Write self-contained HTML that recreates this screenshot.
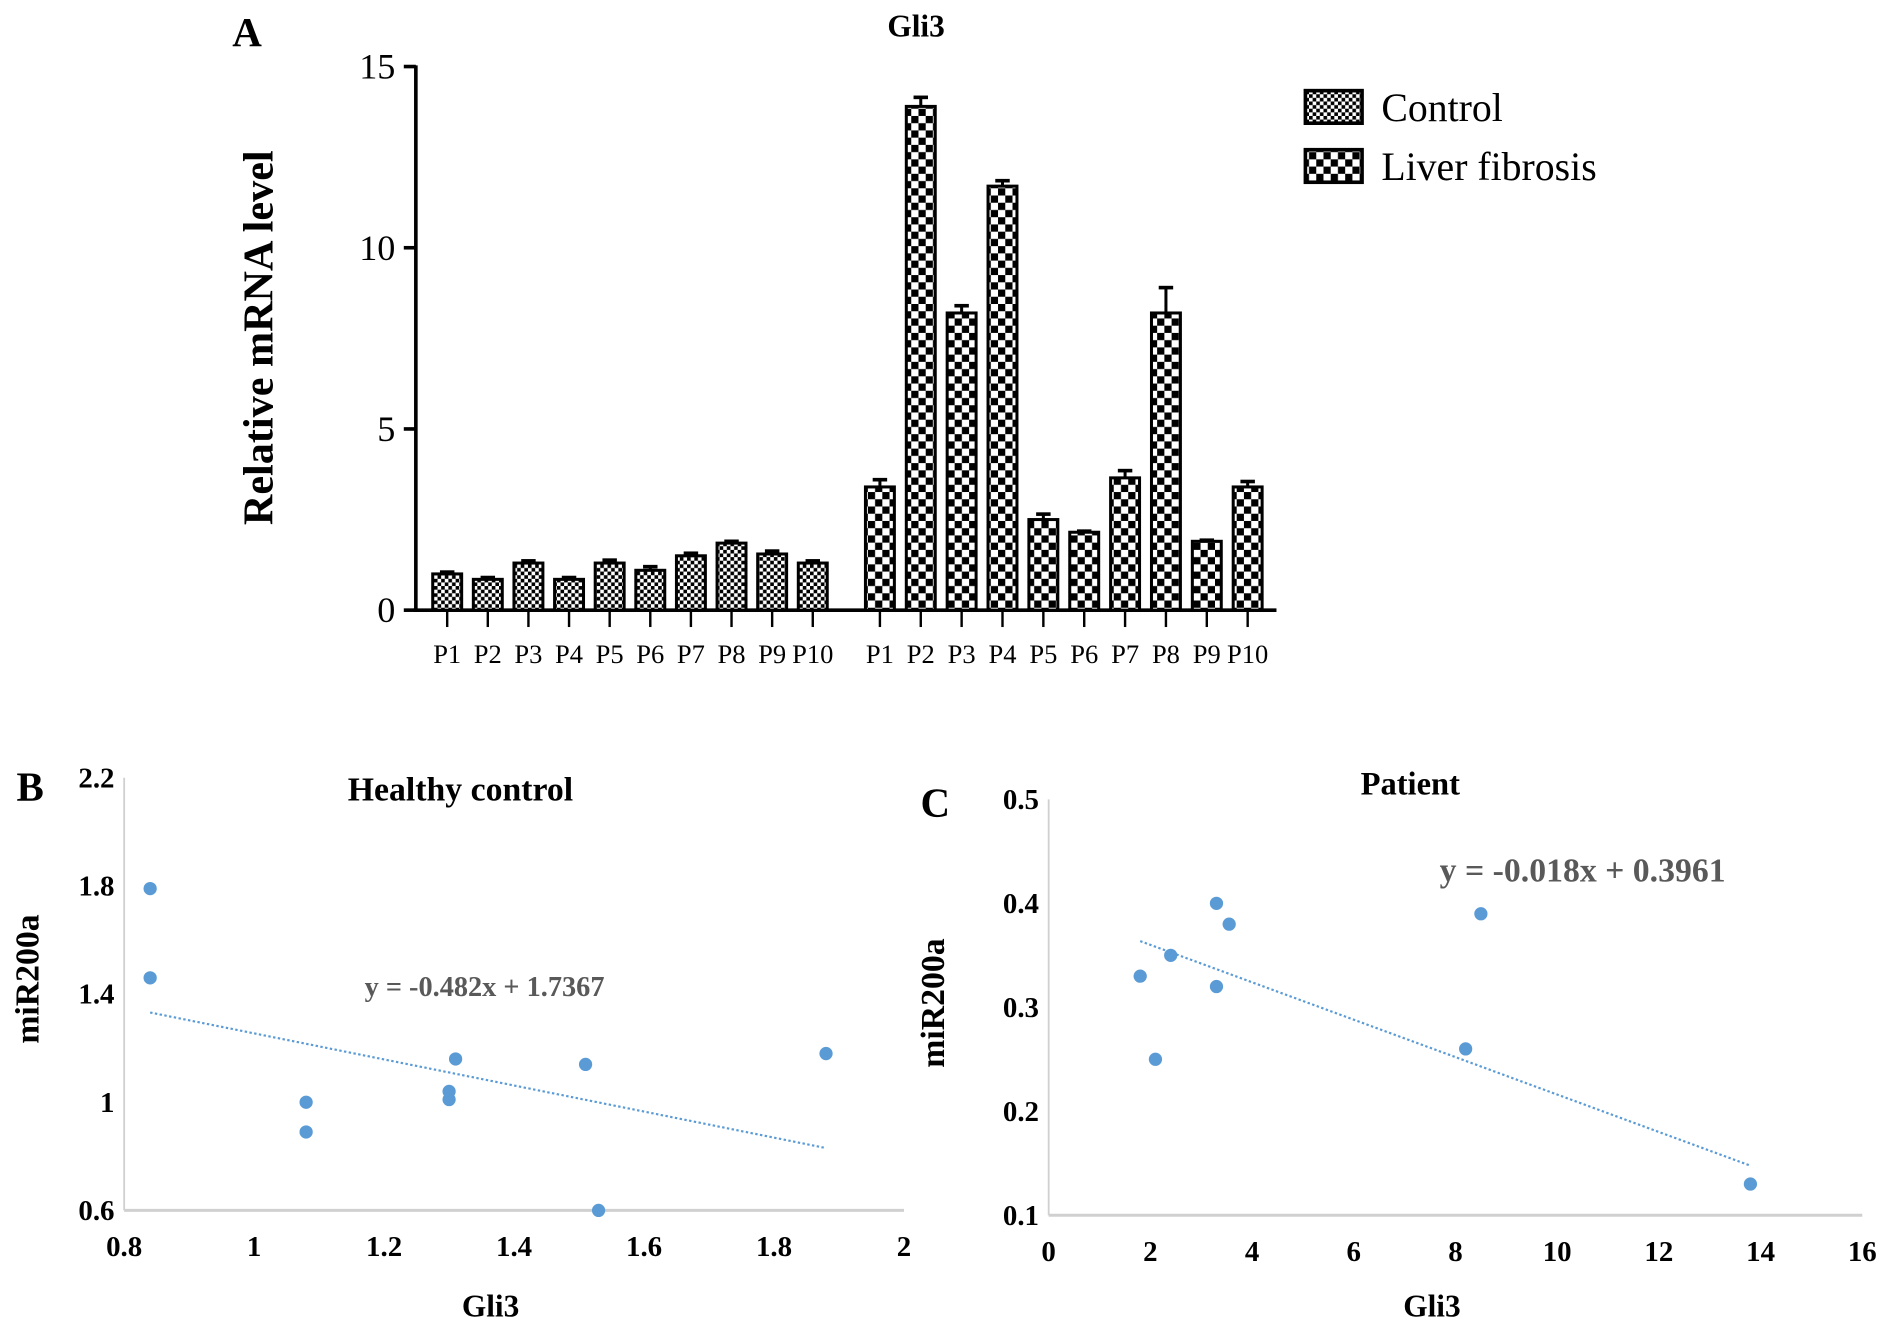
<!DOCTYPE html>
<html><head><meta charset="utf-8"><style>
html,body{margin:0;padding:0;background:#fff;}
svg{display:block;font-family:"Liberation Serif",serif;}
</style></head><body>
<svg id="fig" width="1890" height="1330" viewBox="0 0 1568 1103" xmlns="http://www.w3.org/2000/svg">
<defs>
<pattern id="pc" width="6" height="6" patternUnits="userSpaceOnUse"><rect width="6" height="6" fill="#fff"/><rect width="3" height="3" fill="#000"/><rect x="3" y="3" width="3" height="3" fill="#000"/></pattern>
<pattern id="pf" width="12" height="12" patternUnits="userSpaceOnUse"><rect width="12" height="12" fill="#fff"/><rect width="6" height="6" fill="#000"/><rect x="6" y="6" width="6" height="6" fill="#000"/></pattern>
</defs>
<g id="pa"></g>
<g id="pb"></g>
<g id="pc2"></g>
</svg>
<script>
const patients = ["P1","P2","P3","P4","P5","P6","P7","P8","P9","P10"];
const controlVals = [1.0,0.85,1.3,0.85,1.3,1.1,1.5,1.85,1.55,1.3];
const controlErr = [0.05,0.05,0.06,0.05,0.08,0.1,0.07,0.05,0.08,0.06];
const fibrosisVals = [3.4,13.9,8.2,11.7,2.5,2.15,3.65,8.2,1.9,3.4];
const fibrosisErr = [0.2,0.25,0.2,0.15,0.15,0.03,0.2,0.7,0.03,0.15];
const yTicksA = [0,5,10,15];
const bX = [0.84,0.84,1.08,1.08,1.30,1.30,1.31,1.51,1.53,1.88];
const bY = [1.79,1.46,1.0,0.89,1.04,1.01,1.16,1.14,0.6,1.18];
const bXTicks = [0.8,1,1.2,1.4,1.6,1.8,2];
const bYTicks = [0.6,1,1.4,1.8,2.2];
const bXLabels = ["0.8","1","1.2","1.4","1.6","1.8","2"];
const bYLabels = ["0.6","1","1.4","1.8","2.2"];
const cX = [1.8,2.1,2.4,3.3,3.3,3.55,8.2,8.5,13.8];
const cY = [0.33,0.25,0.35,0.40,0.32,0.38,0.26,0.39,0.13];
const cXTicks = [0,2,4,6,8,10,12,14,16];
const cYTicks = [0.1,0.2,0.3,0.4,0.5];
const bSlope=-0.482, bInt=1.7367, cSlope=-0.018, cInt=0.3961;

const NS="http://www.w3.org/2000/svg";
function mk(parent,tag,attrs,text){const e=document.createElementNS(NS,tag);for(const k in attrs)e.setAttribute(k,attrs[k]);if(text!==undefined)e.textContent=text;parent.appendChild(e);return e;}

const A=document.getElementById('pa');
const ay=v=>506-v*(451/15);
const cx=(i,g)=>(g?730:371)+i*(g?33.9:33.7);
let e;
e=mk(A,'text',{x:205,y:38,'font-size':34,'font-weight':'bold','text-anchor':'middle'},'A');

e=mk(A,'text',{x:760,y:30,'font-size':26,'font-weight':'bold','text-anchor':'middle'},'Gli3');

e=mk(A,'text',{x:0,y:0,'font-size':35,'font-weight':'bold','text-anchor':'middle',transform:'translate(226,280) rotate(-90)'},'Relative mRNA level');

mk(A,'line',{x1:345,y1:ay(15)-1,x2:345,y2:507,stroke:'#000','stroke-width':3});
mk(A,'line',{x1:343,y1:506,x2:1059,y2:506,stroke:'#000','stroke-width':3});
yTicksA.forEach(t=>{mk(A,'line',{x1:335,y1:ay(t),x2:345,y2:ay(t),stroke:'#000','stroke-width':3});
 e=mk(A,'text',{x:328,y:ay(t)+10,'font-size':30,'text-anchor':'end'},String(t));
 });
function bars(vals,errs,g,pat,name){
 vals.forEach((v,i)=>{const x=cx(i,g),w=24;
  mk(A,'line',{x1:x,y1:ay(v),x2:x,y2:ay(v+errs[i]),stroke:'#000','stroke-width':2.5});
  mk(A,'line',{x1:x-6,y1:ay(v+errs[i]),x2:x+6,y2:ay(v+errs[i]),stroke:'#000','stroke-width':3});
  e=mk(A,'rect',{x:x-w/2,y:ay(v),width:w,height:506-ay(v),fill:'url(#'+pat+')',stroke:'#000','stroke-width':2.5});
  
  
  mk(A,'line',{x1:x,y1:506,x2:x,y2:520,stroke:'#000','stroke-width':2});
  e=mk(A,'text',{x:x,y:550,'font-size':22,'text-anchor':'middle'},patients[i]);
  
 });}
bars(controlVals,controlErr,0,'pc','control');
bars(fibrosisVals,fibrosisErr,1,'pf','fibrosis');
[['pc','Control',75],['pf','Liver fibrosis',124]].forEach(([p,t,y])=>{
 const g=mk(A,'g',{});
 
 mk(g,'rect',{x:1083,y:y,width:47,height:27,fill:'url(#'+p+')',stroke:'#000','stroke-width':3});
 mk(g,'text',{x:1146,y:y+25,'font-size':33},t);});

function scatter(G,o){
 const sx=v=>o.x0+(v-o.xmin)/(o.xmax-o.xmin)*(o.x1-o.x0);
 const sy=v=>o.y0-(v-o.ymin)/(o.ymax-o.ymin)*(o.y0-o.y1);
 mk(G,'line',{x1:o.x0,y1:o.y1,x2:o.x0,y2:o.y0,stroke:'#d0d0d0','stroke-width':1.5});
 mk(G,'line',{x1:o.x0,y1:o.y0,x2:o.x1,y2:o.y0,stroke:'#d0d0d0','stroke-width':2.5});
 o.xt.forEach((t,i)=>{e=mk(G,'text',{x:sx(t),y:o.y0+38,'font-size':24,'font-weight':'bold','text-anchor':'middle'},o.xl[i]);
  });
 o.yt.forEach((t,i)=>{e=mk(G,'text',{x:o.x0-8,y:sy(t)+8,'font-size':24,'font-weight':'bold','text-anchor':'end'},o.yl[i]);
  });
 const xa=Math.min(...o.px),xb=Math.max(...o.px);
 e=mk(G,'line',{x1:sx(xa),y1:sy(o.m*xa+o.b),x2:sx(xb),y2:sy(o.m*xb+o.b),stroke:'#5b9bd5','stroke-width':1.8,'stroke-dasharray':'2,2'});
 
 o.px.forEach((v,i)=>{e=mk(G,'circle',{cx:sx(v),cy:sy(o.py[i]),r:5.5,fill:'#5b9bd5'});
  });
}
const B=document.getElementById('pb');
scatter(B,{x0:103,x1:750,y0:1004,y1:645,xmin:0.8,xmax:2,ymin:0.6,ymax:2.2,xt:bXTicks,xl:bXLabels,yt:bYTicks,yl:bYLabels,px:bX,py:bY,m:bSlope,b:bInt});
e=mk(B,'text',{x:25,y:664,'font-size':34,'font-weight':'bold','text-anchor':'middle'},'B');
e=mk(B,'text',{x:382,y:664,'font-size':28,'font-weight':'bold','text-anchor':'middle'},'Healthy control');
e=mk(B,'text',{x:402,y:826,'font-size':23.5,'font-weight':'bold','fill':'#595959','text-anchor':'middle'},'y = -0.482x + 1.7367');
e=mk(B,'text',{x:407,y:1092,'font-size':26,'font-weight':'bold','text-anchor':'middle'},'Gli3');
e=mk(B,'text',{x:0,y:0,'font-size':28,'font-weight':'bold','text-anchor':'middle',transform:'translate(32,812) rotate(-90)'},'miR200a');

const C=document.getElementById('pc2');
scatter(C,{x0:870,x1:1545,y0:1008,y1:663,xmin:0,xmax:16,ymin:0.1,ymax:0.5,xt:cXTicks,xl:cXTicks.map(String),yt:cYTicks,yl:cYTicks.map(String),px:cX,py:cY,m:cSlope,b:cInt});
e=mk(C,'text',{x:776,y:677,'font-size':34,'font-weight':'bold','text-anchor':'middle'},'C');
e=mk(C,'text',{x:1170,y:659,'font-size':27,'font-weight':'bold','text-anchor':'middle'},'Patient');
e=mk(C,'text',{x:1313,y:731,'font-size':28,'font-weight':'bold','fill':'#595959','text-anchor':'middle'},'y = -0.018x + 0.3961');
e=mk(C,'text',{x:1188,y:1092,'font-size':26,'font-weight':'bold','text-anchor':'middle'},'Gli3');
e=mk(C,'text',{x:0,y:0,'font-size':28,'font-weight':'bold','text-anchor':'middle',transform:'translate(783,832) rotate(-90)'},'miR200a');
</script>
</body></html>
